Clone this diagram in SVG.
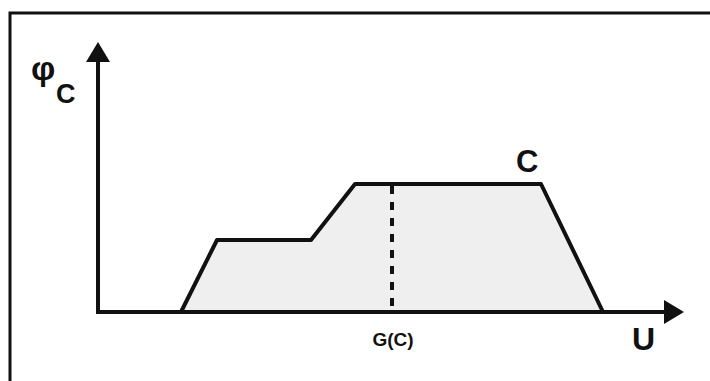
<svg xmlns="http://www.w3.org/2000/svg" width="710" height="381" viewBox="0 0 710 381">
<style>
.ax{stroke:#111;stroke-width:4;fill:none}
.lbl{font-family:"Liberation Sans",Arial,sans-serif;fill:#111}
</style>
<defs>
<marker id="ah" markerWidth="6" markerHeight="6" refX="1" refY="3" orient="auto" markerUnits="strokeWidth">
<path d="M0,0 L5,3 L0,6 Z" fill="#111"/>
</marker>
</defs>
<rect width="710" height="381" fill="#fff"/>
<path d="M10,381 L10,13 L710,13" stroke="#111" stroke-width="3" fill="none"/>
<g id="curve">
<polygon points="181,312 217,240 311,240 355,184 541,184 603,312" fill="#efefef" stroke="#111" stroke-width="4" stroke-linejoin="round"/>
<line x1="392" y1="186" x2="392" y2="310" stroke="#111" stroke-width="4" stroke-dasharray="8,8"/>
</g>
<g id="connectors">
<line class="ax" x1="98" y1="312" x2="98" y2="58" marker-end="url(#ah)"/>
<line class="ax" x1="96" y1="312" x2="668" y2="312" marker-end="url(#ah)"/>
</g>
<g id="labels">
<text class="lbl" x="31" y="80" font-size="34" font-weight="bold">φ</text>
<text class="lbl" x="56" y="103" font-size="27" font-weight="bold">C</text>
<text class="lbl" x="516" y="172" font-size="31" font-weight="bold">C</text>
<text class="lbl" x="632" y="350" font-size="32" font-weight="bold">U</text>
<text class="lbl" x="393" y="346" font-size="19" font-weight="bold" text-anchor="middle">G(C)</text>
</g>
</svg>
